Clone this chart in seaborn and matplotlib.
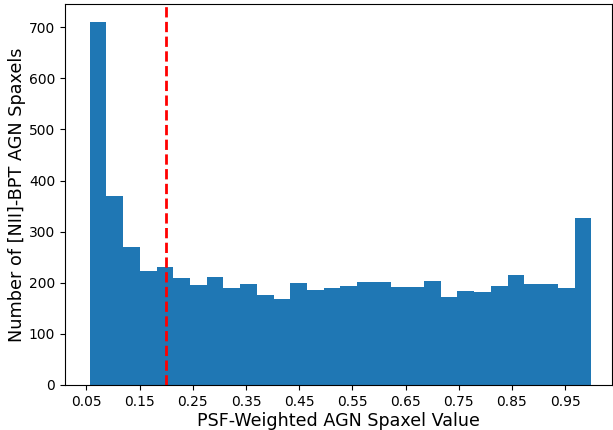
import numpy as np
import pandas as pd
import matplotlib
matplotlib.use("Agg")
import matplotlib.pyplot as plt
import seaborn as sns

bin_start = 0.056
bin_end = 0.999
counts = [710, 369, 271, 224, 231, 210, 195, 212, 189, 198, 177, 169, 200, 185, 189,
          194, 202, 202, 191, 191, 204, 173, 184, 181, 194, 216, 197, 197, 189, 326]
threshold = 0.2
xticks = [0.05, 0.15, 0.25, 0.35, 0.45, 0.55, 0.65, 0.75, 0.85, 0.95]

edges = np.linspace(bin_start, bin_end, len(counts) + 1)
centers = (edges[:-1] + edges[1:]) / 2
df = pd.DataFrame({"value": centers, "count": counts})

fig = plt.figure(figsize=(6.13, 4.30), dpi=100)
ax = fig.add_subplot(111)
fig.subplots_adjust(left=65/613, right=612/613, top=1-4/430, bottom=1-385/430)

sns.histplot(data=df, x="value", weights="count", bins=len(counts),
             binrange=(bin_start, bin_end), ax=ax,
             color="#1f77b4", alpha=1.0, linewidth=0, element="bars")
ax.axvline(threshold, color="red", linestyle="--", linewidth=2)

ax.set_xlim(0.0097, 1.038)
ax.set_xticks(xticks)
ax.set_xticklabels([f"{t:.2f}" for t in xticks])
ax.set_xlabel("PSF-Weighted AGN Spaxel Value", fontsize=12.6, labelpad=2)
ax.set_ylabel("Number of [NII]-BPT AGN Spaxels", fontsize=12.7, labelpad=2)
ax.tick_params(labelsize=10)

fig.savefig("out.png", dpi=100)
